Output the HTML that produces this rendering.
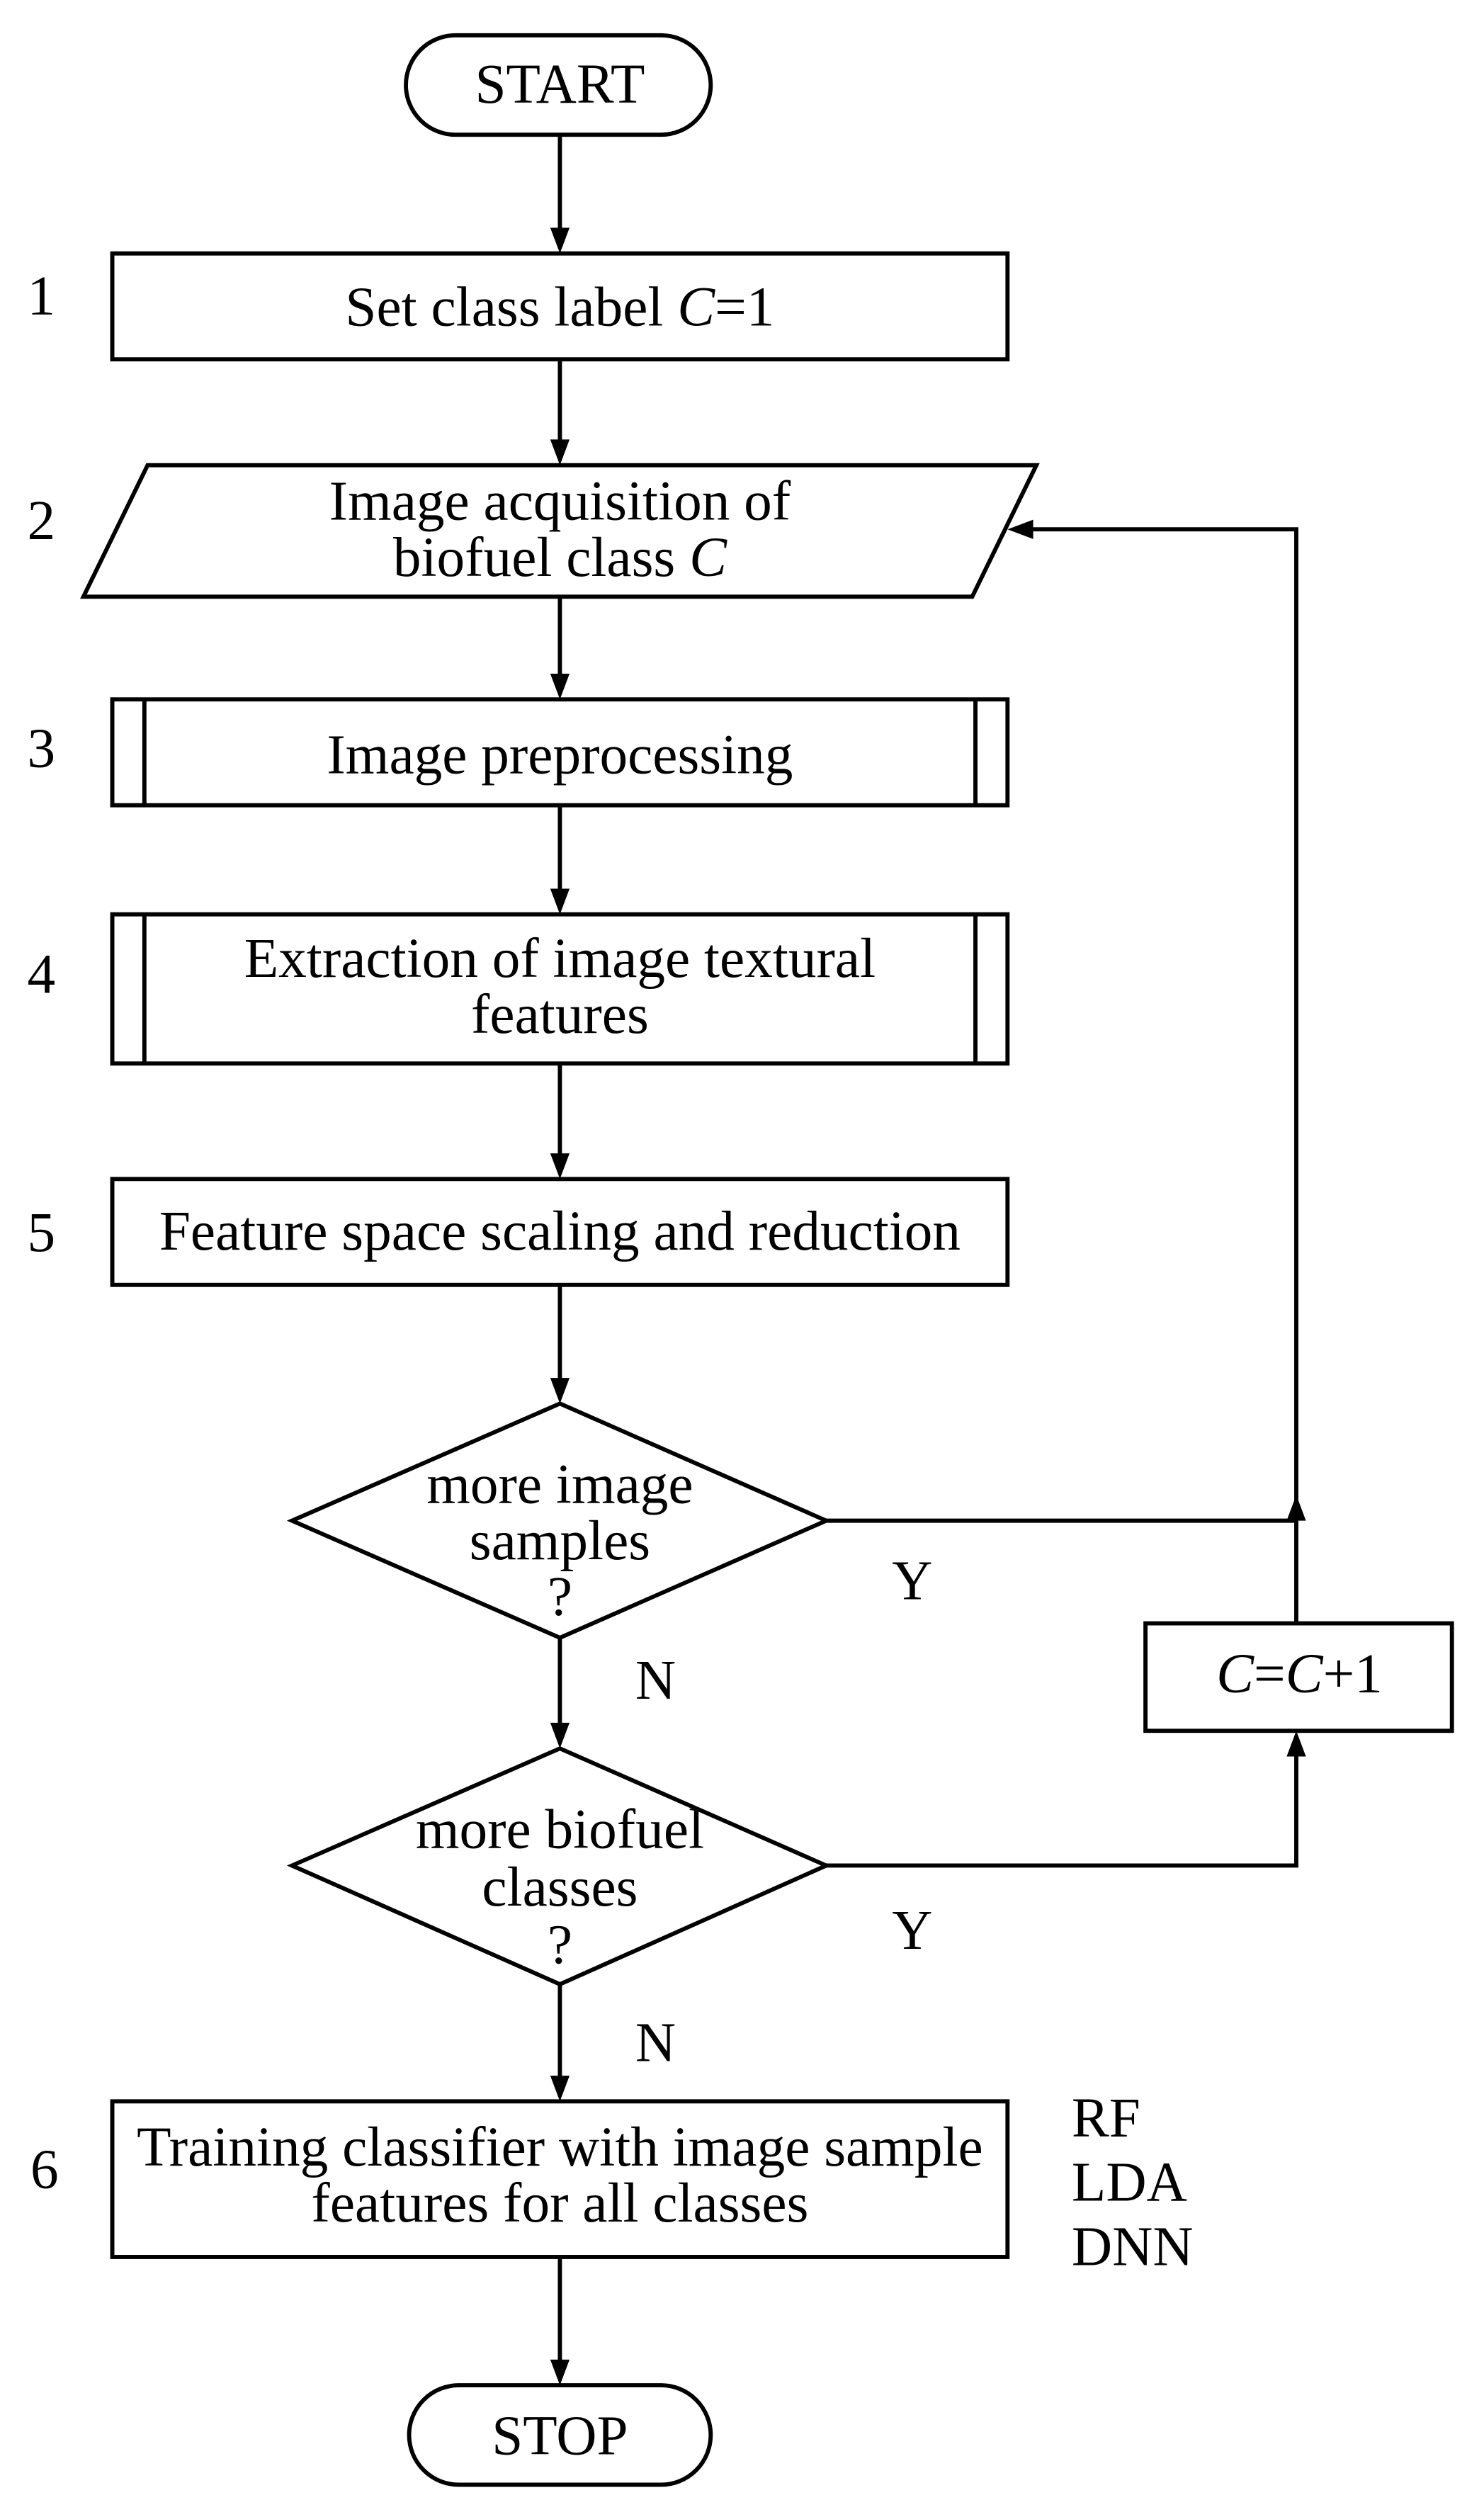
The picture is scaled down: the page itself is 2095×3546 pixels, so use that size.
<!DOCTYPE html>
<html><head><meta charset="utf-8"><style>
html,body{margin:0;padding:0;background:#fff;}
svg{display:block;}
text{font-family:"Liberation Serif",serif;font-size:35px;fill:#000;}
</style></head><body>
<svg width="2095" height="3546" viewBox="0 0 925 1566" preserveAspectRatio="none" xmlns="http://www.w3.org/2000/svg">
<g fill="none" stroke="#000" stroke-width="2.6">
<rect x="253" y="22" width="190" height="62" rx="31"/>
<rect x="70" y="158" width="558" height="66"/>
<polygon points="92,290 646,290 606,372 52,372"/>
<rect x="70" y="436" width="558" height="66"/>
<line x1="90" y1="436" x2="90" y2="502"/><line x1="608" y1="436" x2="608" y2="502"/>
<rect x="70" y="570" width="558" height="93"/>
<line x1="90" y1="570" x2="90" y2="663"/><line x1="608" y1="570" x2="608" y2="663"/>
<rect x="70" y="735" width="558" height="66"/>
<polygon points="349,875 515,948 349,1021 182,948"/>
<polygon points="349,1090 515,1163 349,1237 182,1163"/>
<rect x="714" y="1012" width="191" height="67"/>
<rect x="70" y="1310" width="558" height="97"/>
<rect x="255" y="1487" width="188" height="62" rx="31"/>
<line x1="349" y1="84" x2="349" y2="144"/>
<line x1="349" y1="224" x2="349" y2="276"/>
<line x1="349" y1="372" x2="349" y2="422"/>
<line x1="349" y1="502" x2="349" y2="556"/>
<line x1="349" y1="663" x2="349" y2="721"/>
<line x1="349" y1="801" x2="349" y2="861"/>
<line x1="349" y1="1021" x2="349" y2="1076"/>
<line x1="349" y1="1237" x2="349" y2="1296"/>
<line x1="349" y1="1407" x2="349" y2="1473"/>
<polyline points="515,948 808,948 808,330 642,330"/>
<polyline points="515,1163 808,1163 808,1093"/>
<line x1="808" y1="1012" x2="808" y2="948"/>
</g>
<g fill="#000">
<polygon points="343,142 355,142 349,158"/>
<polygon points="343,274 355,274 349,290"/>
<polygon points="343,420 355,420 349,436"/>
<polygon points="343,554 355,554 349,570"/>
<polygon points="343,719 355,719 349,735"/>
<polygon points="343,859 355,859 349,875"/>
<polygon points="343,1074 355,1074 349,1090"/>
<polygon points="343,1294 355,1294 349,1310"/>
<polygon points="343,1471 355,1471 349,1487"/>
<polygon points="644,324 644,336 628,330"/>
<polygon points="802,1095 814,1095 808,1079"/>
<polygon points="802,948 814,948 808,932"/>
</g>
<g text-anchor="middle">
<text x="349" y="64">START</text>
<text x="349" y="203">Set class label <tspan font-style="italic">C</tspan>=1</text>
<text x="349" y="324">Image acquisition of</text>
<text x="349" y="359">biofuel class <tspan font-style="italic">C</tspan></text>
<text x="349" y="482">Image preprocessing</text>
<text x="349" y="609">Extraction of image textural</text>
<text x="349" y="644">features</text>
<text x="349" y="779">Feature space scaling and reduction</text>
<text x="349" y="937">more image</text>
<text x="349" y="972">samples</text>
<text x="349" y="1007">?</text>
<text x="349" y="1152">more biofuel</text>
<text x="349" y="1188">classes</text>
<text x="349" y="1224">?</text>
<text x="810" y="1055"><tspan font-style="italic">C</tspan>=<tspan font-style="italic">C</tspan>+1</text>
<text x="349" y="1350">Training classifier with image sample</text>
<text x="349" y="1385">features for all classes</text>
<text x="349" y="1530">STOP</text>
</g>
<text x="17" y="196">1</text>
<text x="17" y="336">2</text>
<text x="17" y="478">3</text>
<text x="17" y="619">4</text>
<text x="17" y="780">5</text>
<text x="19" y="1364">6</text>
<text x="556" y="997">Y</text>
<text x="556" y="1215">Y</text>
<text x="396" y="1059">N</text>
<text x="396" y="1285">N</text>
<text x="668" y="1332">RF</text>
<text x="668" y="1372">LDA</text>
<text x="668" y="1412">DNN</text>
</svg>
</body></html>
